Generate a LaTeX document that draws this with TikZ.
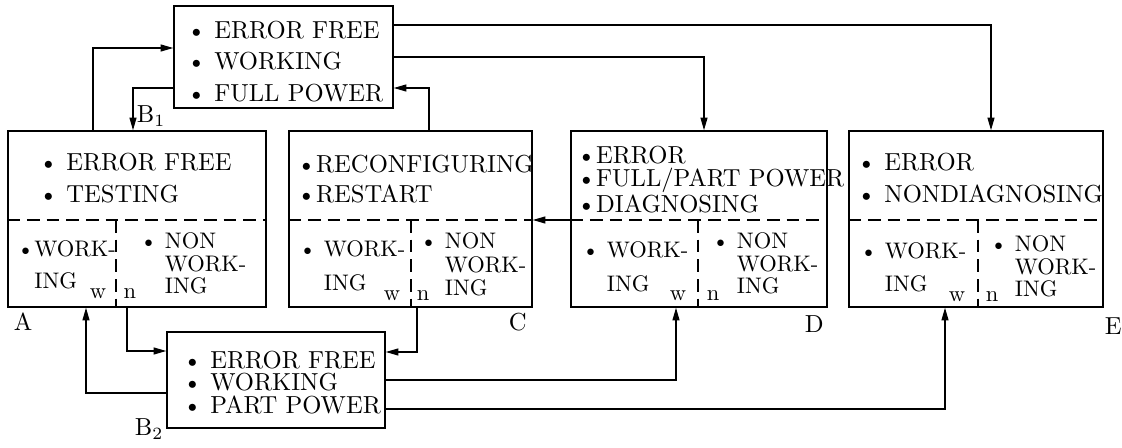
\documentclass[tikz,border=0pt]{standalone}
\usepackage{tikz}
\usetikzlibrary{arrows.meta,fit}

\tikzset{
  box/.style={draw,line width=1.1pt,inner sep=0pt},
  divider/.style={line width=0.8pt,dash pattern=on 9pt off 5pt},
  itemtext/.style={anchor=north west,align=left,inner sep=0pt,scale=1.75,font=\fontsize{10}{#1}\selectfont},
  celltext/.style={anchor=north west,align=left,inner sep=0pt,scale=1.6,font=\fontsize{10}{#1}\selectfont},
  wn/.style={inner sep=0pt,scale=1.6,font=\fontsize{10}{12}\selectfont},
  tag/.style={anchor=base west,inner sep=0pt,scale=1.75,font=\fontsize{10}{12}\selectfont}
}

\begin{document}
\begin{tikzpicture}[>={Triangle[length=9pt,width=5pt]},line width=0.8pt]
\useasboundingbox (0,0) rectangle (28.05,11.2);
% boxes
\node[box,fit={(4.35,8.5) (9.825,11.05)}] (B1) {};
\node[box,fit={(0.2,3.525) (6.65,7.925)}] (A) {};
\node[box,fit={(7.225,3.525) (13.3,7.925)}] (C) {};
\node[box,fit={(14.275,3.525) (20.675,7.925)}] (D) {};
\node[box,fit={(21.225,3.525) (27.575,7.925)}] (E) {};
\node[box,fit={(4.175,0.5) (9.625,2.9)}] (B2) {};
% dashed splits
\draw[divider] (A.west |- 0,5.7) -- (A.east |- 0,5.7);
\draw[divider] (2.9,5.7) -- (A.south -| 2.9,0);
\draw[divider] (C.west |- 0,5.7) -- (C.east |- 0,5.7);
\draw[divider] (10.275,5.7) -- (C.south -| 10.275,0);
\draw[divider] (D.west |- 0,5.7) -- (D.east |- 0,5.7);
\draw[divider] (17.45,5.7) -- (D.south -| 17.45,0);
\draw[divider] (E.west |- 0,5.7) -- (E.east |- 0,5.7);
\draw[divider] (24.45,5.7) -- (E.south -| 24.45,0);
% texts
\node[itemtext=12.8pt] (b1txt) at (4.65,10.7) {\textbullet\ ERROR FREE\\\textbullet\ WORKING\\\textbullet\ FULL POWER};
\node[itemtext=13pt] (atxt) at (0.95,7.4) {\textbullet\ ERROR FREE\\\textbullet\ TESTING};
\node[itemtext=12.2pt] (ctxt) at (7.4,7.35) {\textbullet RECONFIGURING\\\textbullet RESTART};
\node[itemtext=9.4pt] (dtxt) at (14.4,7.575) {\textbullet ERROR\\\textbullet FULL/PART POWER\\\textbullet DIAGNOSING};
\node[itemtext=13pt] (etxt) at (21.4,7.4) {\textbullet\ ERROR\\\textbullet\ NONDIAGNOSING};
\node[itemtext=9.1pt] (b2txt) at (4.55,2.45) {\textbullet\ ERROR FREE\\\textbullet\ WORKING\\\textbullet\ PART POWER};
\node[celltext=14.2pt] (awork) at (0.4,5.2) {\textbullet WORK-\\\hphantom{\textbullet}ING};
\node[celltext=10pt] (anon) at (3.475,5.4) {\textbullet\ NON\\\hphantom{\textbullet\ }WORK-\\\hphantom{\textbullet\ }ING};
\node[celltext=15.1pt] (cwork) at (7.45,5.2) {\textbullet\ WORK-\\\hphantom{\textbullet\ }ING};
\node[celltext=10.4pt] (cnon) at (10.475,5.4) {\textbullet\ NON\\\hphantom{\textbullet\ }WORK-\\\hphantom{\textbullet\ }ING};
\node[celltext=15.1pt] (dwork) at (14.525,5.175) {\textbullet\ WORK-\\\hphantom{\textbullet\ }ING};
\node[celltext=10pt] (dnon) at (17.775,5.4) {\textbullet\ NON\\\hphantom{\textbullet\ }WORK-\\\hphantom{\textbullet\ }ING};
\node[celltext=14.7pt] (ework) at (21.475,5.15) {\textbullet\ WORK-\\\hphantom{\textbullet\ }ING};
\node[celltext=10pt] (enon) at (24.725,5.325) {\textbullet\ NON\\\hphantom{\textbullet\ }WORK-\\\hphantom{\textbullet\ }ING};
% w / n marks
\node[wn] (aw) at (2.45,3.85) {w};
\node[wn] (an) at (3.25,3.85) {n};
\node[wn] (cw) at (9.8,3.8) {w};
\node[wn] (cn) at (10.575,3.8) {n};
\node[wn] (dw) at (16.95,3.8) {w};
\node[wn] (dn) at (17.825,3.8) {n};
\node[wn] (ew) at (23.925,3.775) {w};
\node[wn] (en) at (24.8,3.775) {n};
% state labels
\node[tag] (alab) at (0.325,2.925) {A};
\node[tag] (clab) at (12.7,2.925) {C};
\node[tag] (dlab) at (20.1,2.875) {D};
\node[tag] (elab) at (27.6,2.825) {E};
\node[tag] (b1lab) at (3.4,8.125) {B$_1$};
\node[tag] (b2lab) at (3.35,0.3) {B$_2$};
% transitions
\draw[->] (A.north -| 2.325,0) |- (B1.west |- 0,10);
\draw[->] (B1.west |- 0,9) -| (A.north -| 3.325,0);
\draw[->] (C.north -| 10.725,0) |- (B1.east |- 0,9);
\draw[->] (B1.east |- 0,9.775) -| (D.north -| 17.6,0);
\draw[->] (B1.east |- 0,10.575) -| (E.north -| 24.775,0);
\draw[->] (D.west |- 0,5.7) -- (C.east |- 0,5.7);
\draw[->] (A.south -| 3.175,0) |- (B2.west |- 0,2.425);
\draw[->] (B2.west |- 0,1.375) -| (A.south -| 2.15,0);
\draw[->] (C.south -| 10.425,0) |- (B2.east |- 0,2.4);
\draw[->] (B2.east |- 0,1.7) -| (D.south -| 16.9,0);
\draw[->] (B2.east |- 0,0.975) -| (E.south -| 23.625,0);
\end{tikzpicture}
\end{document}
